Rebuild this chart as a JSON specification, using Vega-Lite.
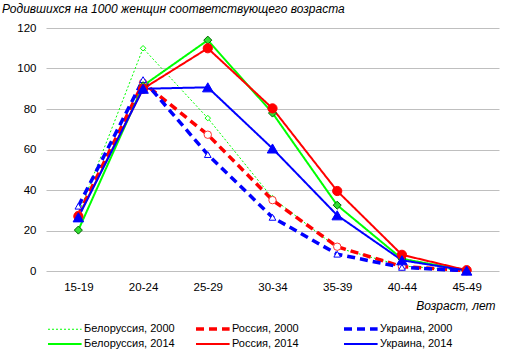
{
  "$schema": "https://vega.github.io/schema/vega-lite/v6.json",
  "width": 453,
  "height": 243,
  "autosize": {"type": "none"},
  "padding": {"left": 46, "top": 28, "right": 17, "bottom": 88},
  "background": "white",
  "config": {
    "view": {"stroke": null},
    "font": "Liberation Sans",
    "axis": {"labelFont": "Liberation Sans", "labelColor": "#000000", "labelFontSize": 11.5, "titleFont": "Liberation Sans"},
    "legend": {"labelFont": "Liberation Sans"}
  },
  "title": {
    "text": "Родившихся на 1000 женщин соответствующего возраста",
    "anchor": "start",
    "frame": "group",
    "dx": -44,
    "offset": 6,
    "fontSize": 12,
    "fontStyle": "italic",
    "fontWeight": "normal",
    "font": "Liberation Sans",
    "color": "#000000"
  },
  "data": {
    "values": [
      {"age": "15-19", "series": "Белоруссия, 2000", "value": 28},
      {"age": "20-24", "series": "Белоруссия, 2000", "value": 110},
      {"age": "25-29", "series": "Белоруссия, 2000", "value": 75.5},
      {"age": "30-34", "series": "Белоруссия, 2000", "value": 36},
      {"age": "35-39", "series": "Белоруссия, 2000", "value": 11.5},
      {"age": "40-44", "series": "Белоруссия, 2000", "value": 2.5},
      {"age": "45-49", "series": "Белоруссия, 2000", "value": 0.2},
      {"age": "15-19", "series": "Россия, 2000", "value": 27.7},
      {"age": "20-24", "series": "Россия, 2000", "value": 93},
      {"age": "25-29", "series": "Россия, 2000", "value": 67.3},
      {"age": "30-34", "series": "Россия, 2000", "value": 35},
      {"age": "35-39", "series": "Россия, 2000", "value": 12},
      {"age": "40-44", "series": "Россия, 2000", "value": 2.2},
      {"age": "45-49", "series": "Россия, 2000", "value": 0.2},
      {"age": "15-19", "series": "Украина, 2000", "value": 32},
      {"age": "20-24", "series": "Украина, 2000", "value": 94.5},
      {"age": "25-29", "series": "Украина, 2000", "value": 57.5},
      {"age": "30-34", "series": "Украина, 2000", "value": 26.5},
      {"age": "35-39", "series": "Украина, 2000", "value": 8.3},
      {"age": "40-44", "series": "Украина, 2000", "value": 1.8},
      {"age": "45-49", "series": "Украина, 2000", "value": 0.1},
      {"age": "15-19", "series": "Белоруссия, 2014", "value": 20.2},
      {"age": "20-24", "series": "Белоруссия, 2014", "value": 91.5},
      {"age": "25-29", "series": "Белоруссия, 2014", "value": 114},
      {"age": "30-34", "series": "Белоруссия, 2014", "value": 78},
      {"age": "35-39", "series": "Белоруссия, 2014", "value": 32.5},
      {"age": "40-44", "series": "Белоруссия, 2014", "value": 6},
      {"age": "45-49", "series": "Белоруссия, 2014", "value": 0.3},
      {"age": "15-19", "series": "Россия, 2014", "value": 27},
      {"age": "20-24", "series": "Россия, 2014", "value": 90},
      {"age": "25-29", "series": "Россия, 2014", "value": 110},
      {"age": "30-34", "series": "Россия, 2014", "value": 80.3},
      {"age": "35-39", "series": "Россия, 2014", "value": 39.5},
      {"age": "40-44", "series": "Россия, 2014", "value": 8},
      {"age": "45-49", "series": "Россия, 2014", "value": 0.4},
      {"age": "15-19", "series": "Украина, 2014", "value": 26.5},
      {"age": "20-24", "series": "Украина, 2014", "value": 90},
      {"age": "25-29", "series": "Украина, 2014", "value": 90.7},
      {"age": "30-34", "series": "Украина, 2014", "value": 60.5},
      {"age": "35-39", "series": "Украина, 2014", "value": 27.5},
      {"age": "40-44", "series": "Украина, 2014", "value": 5.3},
      {"age": "45-49", "series": "Украина, 2014", "value": 0.2}
    ]
  },
  "encoding": {
    "x": {
      "field": "age",
      "type": "ordinal",
      "scale": {"type": "point", "padding": 0.5},
      "axis": {
        "labelAngle": 0,
        "domain": false,
        "ticks": false,
        "labelPadding": 10,
        "title": "Возраст, лет",
        "titleFontStyle": "italic",
        "titleFontWeight": "normal",
        "titleFontSize": 12,
        "titleColor": "#000000",
        "titleAnchor": "end",
        "titlePadding": 8,
        "titleX": 449
      }
    },
    "y": {
      "field": "value",
      "type": "quantitative",
      "scale": {"domain": [0, 120], "nice": false},
      "axis": {
        "values": [0, 20, 40, 60, 80, 100, 120],
        "domain": false,
        "ticks": false,
        "labelPadding": 10,
        "gridColor": "#bfbfbf",
        "gridOpacity": 1,
        "title": null
      }
    }
  },
  "layer": [
    {
      "mark": {"type": "line"},
      "encoding": {
        "color": {
          "field": "series",
          "type": "nominal",
          "scale": {
            "domain": ["Белоруссия, 2000", "Россия, 2000", "Украина, 2000", "Белоруссия, 2014", "Россия, 2014", "Украина, 2014"],
            "range": ["#00ff00", "#ff0000", "#0000ff", "#00ff00", "#ff0000", "#0000ff"]
          },
          "legend": {
            "title": null,
            "orient": "none",
            "legendX": 0,
            "legendY": 293,
            "direction": "horizontal",
            "columns": 3,
            "gridAlign": "all",
            "symbolType": "M-1,0H4.6",
            "symbolSize": 144,
            "labelFontSize": 11,
            "labelColor": "#000000",
            "labelOffset": 22,
            "columnPadding": 14,
            "rowPadding": 1
          }
        },
        "strokeDash": {
          "field": "series",
          "type": "nominal",
          "scale": {
            "domain": ["Белоруссия, 2000", "Россия, 2000", "Украина, 2000", "Белоруссия, 2014", "Россия, 2014", "Украина, 2014"],
            "range": [[2, 2], [8, 5], [8, 5], [1, 0], [1, 0], [1, 0]]
          }
        },
        "strokeWidth": {
          "field": "series",
          "type": "nominal",
          "scale": {
            "type": "ordinal",
            "domain": ["Белоруссия, 2000", "Россия, 2000", "Украина, 2000", "Белоруссия, 2014", "Россия, 2014", "Украина, 2014"],
            "range": [1, 3.5, 3.5, 2, 2, 2]
          }
        }
      }
    },
    {
      "mark": {"type": "point", "opacity": 1, "strokeWidth": 1},
      "encoding": {
        "shape": {
          "field": "series",
          "type": "nominal",
          "scale": {
            "domain": ["Украина, 2014", "Россия, 2014", "Белоруссия, 2014", "Украина, 2000", "Россия, 2000", "Белоруссия, 2000"],
            "range": ["triangle-up", "circle", "diamond", "triangle-up", "circle", "diamond"]
          },
          "legend": null
        },
        "size": {
          "field": "series",
          "type": "nominal",
          "scale": {
            "type": "ordinal",
            "domain": ["Украина, 2014", "Россия, 2014", "Белоруссия, 2014", "Украина, 2000", "Россия, 2000", "Белоруссия, 2000"],
            "range": [110, 85, 65, 45, 55, 30]
          },
          "legend": null
        },
        "fill": {
          "field": "series",
          "type": "nominal",
          "scale": {
            "domain": ["Украина, 2014", "Россия, 2014", "Белоруссия, 2014", "Украина, 2000", "Россия, 2000", "Белоруссия, 2000"],
            "range": ["#0000ff", "#ff0000", "#33dd33", "#ffffff", "#ffffff", "#ffffff"]
          },
          "legend": null
        },
        "stroke": {
          "field": "series",
          "type": "nominal",
          "scale": {
            "domain": ["Украина, 2014", "Россия, 2014", "Белоруссия, 2014", "Украина, 2000", "Россия, 2000", "Белоруссия, 2000"],
            "range": ["#0000ff", "#ff0000", "#006600", "#0000ff", "#ff3333", "#00ff00"]
          },
          "legend": null
        }
      }
    }
  ]
}
